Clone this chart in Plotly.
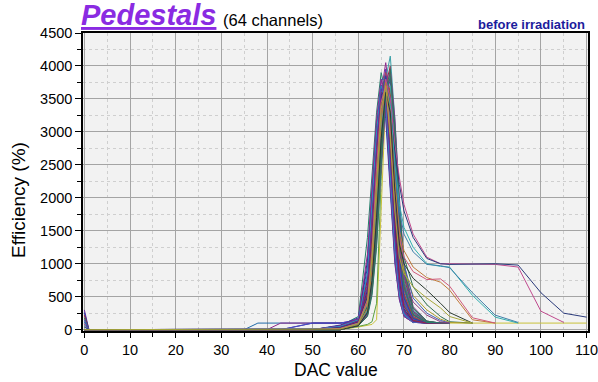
import plotly.graph_objects as go

# DAC values at which the channel efficiencies are sampled
DAC = [0, 1, 35, 38, 40, 43, 50, 56, 60, 62, 63, 64, 65, 66, 67, 68, 69, 70, 72, 75, 78, 80,
       85, 90, 95, 100, 105, 110]

# efficiency (%) per channel (one list per channel)
ch01 = [300, 0, 0, 0, 0, 0, 0, 20, 120, 450, 1100, 2200, 3300, 3950, 3400, 2300, 1200, 550, 200, 110, 100, 100]
ch02 = [260, 0, 0, 0, 0, 0, 0, 40, 150, 800, 1800, 2900, 3700, 3700, 2700, 1500, 700, 300, 130, 100, 100, 100]
ch03 = [220, 0, 0, 0, 0, 0, 0, 0, 80, 300, 750, 1600, 2800, 3700, 4000, 3000, 1700, 800, 280, 120, 100, 100]
ch04 = [180, 0, 0, 0, 0, 0, 0, 60, 200, 1400, 2400, 3300, 3900, 3600, 2500, 1300, 600, 280, 130, 100, 100, 100]
ch05 = [150, 0, 0, 0, 0, 0, 0, 10, 110, 450, 1150, 2300, 3400, 3950, 3400, 2200, 1100, 450, 160, 100, 100, 100]
ch06 = [120, 0, 0, 100, 100, 100, 100, 100, 120, 350, 850, 1800, 2900, 3700, 3800, 2700, 1500, 700, 220, 110, 100, 100]
ch07 = [90, 0, 0, 0, 0, 100, 100, 100, 150, 550, 1300, 2500, 3600, 4050, 3500, 2200, 1000, 400, 150, 100, 100, 100]
ch08 = [60, 0, 0, 0, 0, 0, 0, 30, 100, 250, 650, 1500, 2800, 3800, 4150, 3200, 1900, 900, 300, 120, 100, 100]
ch09 = [40, 0, 0, 0, 0, 0, 100, 100, 130, 800, 1800, 2900, 3700, 3500, 2400, 1200, 550, 250, 110, 100, 100, 100]
ch10 = [0, 0, 0, 0, 0, 0, 0, 0, 90, 350, 1000, 2100, 3200, 3800, 3300, 2100, 1000, 420, 150, 100, 100, 100]
ch11 = [0, 0, 0, 0, 0, 0, 0, 0, 40, 60, 80, 150, 1800, 3500, 3700, 2600, 1300, 600, 200, 110, 100, 100, 100, 100, 100, 100, 100, 100]
ch12 = [0, 0, 0, 0, 0, 0, 0, 0, 50, 80, 120, 400, 2300, 3700, 3600, 2300, 1100, 450, 150, 100, 100, 100]
ch13 = [0, 0, 0, 0, 0, 0, 0, 50, 130, 550, 1300, 2400, 3400, 3800, 3100, 1900, 900, 400, 150, 100, 100, 100]
ch14 = [0, 0, 0, 0, 0, 0, 0, 0, 90, 380, 950, 2000, 3100, 3650, 3600, 2600, 1400, 650, 220, 110, 100, 100]
ch15 = [0, 0, 0, 0, 0, 0, 100, 100, 150, 850, 1900, 3000, 3700, 3300, 2200, 1100, 500, 220, 110, 100, 100, 100]
ch16 = [0, 0, 0, 0, 0, 0, 0, 20, 110, 480, 1250, 2500, 3500, 3900, 2900, 1700, 800, 350, 140, 100, 100, 100]
ch17 = [0, 0, 0, 0, 0, 0, 0, 0, 70, 230, 650, 1450, 2600, 3500, 3800, 2900, 1700, 850, 280, 120, 100, 100]
ch18 = [0, 0, 0, 0, 0, 0, 0, 70, 180, 950, 2000, 3000, 3600, 3200, 2100, 1000, 450, 200, 110, 100, 100, 100]
ch19 = [0, 0, 0, 0, 0, 0, 0, 10, 100, 400, 1050, 2200, 3300, 3850, 3300, 2000, 950, 420, 160, 100, 100, 100]
ch20 = [0, 0, 0, 0, 0, 0, 0, 30, 130, 600, 1450, 2600, 3500, 3600, 2700, 1500, 700, 300, 120, 100, 100, 100]
ch21 = [0, 0, 0, 0, 0, 0, 0, 0, 80, 320, 850, 1850, 3000, 3750, 3500, 2400, 1300, 600, 200, 110, 100, 100]
ch22 = [0, 0, 0, 0, 0, 0, 0, 40, 140, 700, 1650, 2800, 3800, 3800, 2700, 1400, 650, 280, 120, 100, 100, 100]
ch23 = [0, 0, 0, 0, 0, 0, 0, 0, 60, 220, 560, 1300, 2450, 3400, 3950, 3200, 2000, 1000, 350, 130, 100, 100]
ch24 = [0, 0, 0, 0, 0, 0, 0, 20, 110, 450, 1150, 2350, 3400, 3650, 3000, 1800, 850, 380, 150, 100, 100, 100]
ch25 = [0, 0, 0, 0, 0, 0, 0, 60, 160, 1050, 2150, 3100, 3700, 3400, 2300, 1150, 520, 230, 110, 100, 100, 100]
ch26 = [0, 0, 0, 0, 0, 0, 0, 0, 90, 350, 900, 1950, 3150, 3900, 3600, 2400, 1200, 520, 180, 100, 100, 100]
ch27 = [0, 0, 0, 0, 0, 0, 0, 0, 70, 270, 720, 1650, 2850, 3600, 3600, 2700, 1500, 750, 260, 120, 100, 100]
ch28 = [0, 0, 0, 0, 0, 0, 0, 30, 130, 650, 1550, 2700, 3500, 3450, 2500, 1350, 620, 270, 120, 100, 100, 100]
ch29 = [0, 0, 0, 0, 0, 0, 0, 10, 100, 420, 1100, 2250, 3300, 3700, 3200, 2100, 1000, 450, 170, 100, 100, 100]
ch30 = [0, 0, 0, 0, 0, 0, 0, 0, 80, 300, 800, 1750, 2950, 3650, 3650, 2600, 1400, 650, 230, 110, 100, 100]
ch31 = [0, 0, 0, 0, 0, 0, 0, 50, 150, 800, 1850, 2900, 3600, 3500, 2450, 1250, 560, 240, 110, 100, 100, 100]
ch32 = [0, 0, 0, 0, 0, 0, 0, 0, 70, 250, 680, 1550, 2750, 3500, 3400, 2400, 1300, 650, 230, 110, 100, 100]
ch33 = [0, 0, 0, 0, 0, 0, 0, 20, 120, 520, 1300, 2450, 3450, 3800, 3200, 2000, 950, 420, 160, 100, 100, 100]
ch34 = [0, 0, 0, 0, 0, 0, 0, 0, 90, 370, 950, 2050, 3250, 3750, 3350, 2200, 1100, 480, 170, 100, 100, 100]
ch35 = [0, 0, 0, 0, 0, 0, 0, 40, 150, 750, 1750, 2800, 3600, 3550, 2650, 1450, 680, 290, 120, 100, 100, 100]
ch36 = [0, 0, 0, 0, 0, 0, 0, 0, 60, 200, 520, 1250, 2500, 3550, 3850, 3100, 1900, 950, 330, 130, 100, 100]
ch37 = [0, 0, 0, 0, 0, 0, 0, 10, 100, 470, 1200, 2350, 3350, 3600, 2900, 1750, 820, 360, 140, 100, 100, 100]
ch38 = [0, 0, 0, 0, 0, 0, 0, 0, 80, 340, 900, 1950, 3100, 3800, 3500, 2300, 1150, 500, 180, 100, 100, 100]
ch39 = [0, 0, 0, 0, 0, 0, 0, 60, 170, 1150, 2250, 3200, 3800, 3400, 2200, 1050, 460, 200, 110, 100, 100, 100]
ch40 = [0, 0, 0, 0, 0, 0, 0, 0, 70, 280, 760, 1650, 2850, 3650, 3700, 2700, 1500, 720, 250, 110, 100, 100]
ch41 = [0, 0, 0, 0, 0, 0, 0, 30, 130, 600, 1450, 2600, 3550, 3700, 2800, 1600, 750, 320, 130, 100, 100, 100]
ch42 = [0, 0, 0, 0, 0, 0, 0, 0, 90, 400, 1000, 2100, 3200, 3700, 3250, 2100, 1050, 460, 170, 100, 100, 100]
ch43 = [0, 0, 0, 0, 0, 0, 0, 20, 110, 500, 1250, 2400, 3400, 3750, 3100, 1900, 900, 400, 150, 100, 100, 100]
ch44 = [0, 0, 0, 0, 0, 0, 0, 0, 70, 260, 700, 1600, 2800, 3550, 3550, 2600, 1450, 700, 250, 110, 100, 100]
ch45 = [0, 0, 0, 0, 0, 0, 0, 50, 150, 850, 1900, 3000, 3700, 3450, 2350, 1200, 540, 230, 110, 100, 100, 100]
ch46 = [0, 0, 0, 0, 0, 0, 0, 0, 80, 320, 860, 1900, 3050, 3800, 3550, 2400, 1200, 540, 190, 100, 100, 100]
ch47 = [0, 0, 0, 0, 0, 0, 0, 10, 100, 440, 1150, 2300, 3350, 3800, 3200, 2000, 950, 420, 160, 100, 100, 100]
ch48 = [0, 0, 0, 0, 0, 0, 0, 0, 60, 210, 600, 1400, 2650, 3600, 3950, 3000, 1800, 900, 320, 130, 100, 100]
ch49 = [0, 0, 0, 0, 0, 0, 0, 30, 130, 650, 1600, 2750, 3650, 3600, 2600, 1400, 650, 280, 120, 100, 100, 100]
ch50 = [0, 0, 0, 0, 0, 0, 0, 0, 90, 380, 980, 2050, 3200, 3850, 3400, 2200, 1100, 480, 170, 100, 100, 100]
ch51 = [0, 0, 0, 0, 0, 0, 0, 20, 120, 550, 1350, 2500, 3450, 3650, 2900, 1750, 820, 360, 140, 100, 100, 100]
ch52 = [0, 0, 0, 0, 0, 0, 0, 0, 70, 290, 780, 1700, 2900, 3650, 3500, 2500, 1350, 650, 230, 110, 100, 100]
ch53 = [0, 0, 0, 0, 0, 0, 0, 0, 80, 350, 950, 2050, 3200, 3750, 3400, 2600, 1700, 1100, 650, 380, 200, 120, 100]
ch54 = [0, 0, 0, 0, 0, 0, 0, 20, 100, 450, 1200, 2400, 3400, 3700, 3100, 2300, 1400, 900, 520, 300, 160, 110, 100]
ch55 = [0, 0, 0, 0, 0, 0, 0, 0, 70, 300, 850, 1900, 3100, 3800, 3500, 2500, 1600, 1000, 480, 250, 140, 100]
ch56 = [0, 0, 0, 0, 0, 0, 0, 10, 100, 420, 1100, 2300, 3300, 3650, 3000, 2100, 1250, 800, 420, 220, 120, 100]
ch57 = [0, 0, 0, 0, 0, 0, 0, 20, 100, 400, 1000, 2200, 3300, 3800, 3500, 2800, 2300, 1900, 1450, 1100, 1000, 1000, 1000, 990, 950, 280, 110]
ch58 = [0, 0, 0, 0, 0, 0, 0, 30, 110, 500, 1200, 2400, 3400, 3700, 3300, 2700, 2200, 1800, 1400, 1080, 1000, 990, 1000, 1000, 980, 560, 250, 190]
ch59 = [0, 0, 0, 0, 0, 0, 0, 0, 80, 300, 800, 1900, 3100, 3700, 3400, 2500, 1900, 1550, 1250, 1000, 960, 950, 520, 190, 100]
ch60 = [0, 0, 0, 0, 0, 0, 0, 10, 100, 380, 1000, 2100, 3200, 3600, 3200, 2400, 1800, 1450, 1180, 990, 970, 940, 560, 220, 110]
ch61 = [0, 0, 0, 0, 0, 0, 0, 0, 70, 320, 900, 2000, 3150, 3750, 3300, 2200, 1500, 1200, 950, 790, 720, 600, 150, 100]
ch62 = [0, 0, 0, 0, 0, 0, 0, 20, 100, 450, 1200, 2450, 3450, 3700, 3000, 2000, 1400, 1100, 880, 760, 770, 660, 180, 100]
ch63 = [0, 0, 0, 0, 0, 0, 0, 0, 60, 260, 750, 1700, 2900, 3600, 3300, 2100, 1300, 1000, 780, 600, 400, 260, 100]
ch64 = [0, 0, 0, 0, 0, 0, 0, 10, 90, 400, 1100, 2300, 3350, 3700, 2900, 1800, 1100, 850, 650, 480, 330, 200, 100]

CHANNELS = [ch01, ch02, ch03, ch04, ch05, ch06, ch07, ch08, ch09, ch10, ch11, ch12, ch13, ch14, ch15, ch16,
            ch17, ch18, ch19, ch20, ch21, ch22, ch23, ch24, ch25, ch26, ch27, ch28, ch29, ch30, ch31, ch32,
            ch33, ch34, ch35, ch36, ch37, ch38, ch39, ch40, ch41, ch42, ch43, ch44, ch45, ch46, ch47, ch48,
            ch49, ch50, ch51, ch52, ch53, ch54, ch55, ch56, ch57, ch58, ch59, ch60, ch61, ch62, ch63, ch64]

PALETTE = ["#6a2c9e", "#2b3fa8", "#9c2342", "#23806a", "#5b3fc4", "#1f6aa8", "#8e2a8e", "#3aa0a8",
           "#2a2f7e", "#b03a68", "#4f8a3a", "#7a3f8a", "#2a8fc0", "#a0522d", "#4a4ad0", "#3b6f5a"]
SPECIAL = {10: "#c9c23a", 11: "#5aa040", 52: "#2f6f4f", 53: "#b0a030", 54: "#4060b0", 55: "#8a4080",
           56: "#c04a8e", 57: "#2a3a7a", 58: "#30b0b0", 59: "#3f7fa8", 60: "#c07a3a", 61: "#d05a7a",
           62: "#2a3a30", 63: "#a8a83a"}

fig = go.Figure()
for i, ys in enumerate(CHANNELS):
    fig.add_trace(go.Scatter(
        x=DAC[:len(ys)], y=ys, mode="lines",
        line=dict(color=SPECIAL.get(i, PALETTE[i % len(PALETTE)]), width=1),
        showlegend=False, hoverinfo="skip"))

FONT = "Arial, Liberation Sans, sans-serif"
fig.update_layout(
    width=598, height=382,
    margin=dict(l=83, r=10, t=33, b=51),
    paper_bgcolor="white", plot_bgcolor="#f2f2f2",
    font=dict(family=FONT, color="black", size=14),
    xaxis=dict(range=[-0.3, 110.3], tickmode="linear", tick0=0, dtick=10, automargin=False,
               ticklabeloverflow="allow",
               ticks="outside", ticklen=5, tickwidth=1, tickcolor="black",
               showline=True, linecolor="black", linewidth=1.5, mirror=True,
               showgrid=True, gridcolor="#a4a4a4", gridwidth=1, zeroline=False,
               tickfont=dict(size=14.5, family=FONT),
               minor=dict(dtick=5, ticks="outside", ticklen=4, tickcolor="black",
                          showgrid=True, gridcolor="#cfcfcf", griddash="dot", gridwidth=1)),
    yaxis=dict(range=[-20, 4500], tickmode="linear", tick0=0, dtick=500, automargin=False,
               ticklabeloverflow="allow",
               ticks="outside", ticklen=6, tickwidth=1, tickcolor="black",
               showline=True, linecolor="black", linewidth=1.5, mirror=True,
               showgrid=True, gridcolor="#a4a4a4", gridwidth=1, zeroline=False,
               tickfont=dict(size=14.5, family=FONT),
               minor=dict(dtick=250, ticks="outside", ticklen=4, tickcolor="black",
                          showgrid=True, gridcolor="#cfcfcf", griddash="dot", gridwidth=1)),
    annotations=[
        dict(text="<b><i><u>Pedestals</u></i></b>", xref="paper", yref="paper",
             x=-0.008, y=1.06, xanchor="left", yanchor="middle", showarrow=False,
             font=dict(size=29, color="#8a2be2", family=FONT)),
        dict(text="(64 channels)", xref="paper", yref="paper",
             x=0.273, y=1.045, xanchor="left", yanchor="middle", showarrow=False,
             font=dict(size=16.5, color="black", family=FONT)),
        dict(text="<b>before irradiation</b>", xref="paper", yref="paper",
             x=0.998, y=1.028, xanchor="right", yanchor="middle", showarrow=False,
             font=dict(size=13, color="#1c1c9c", family=FONT)),
        dict(text="DAC value", xref="paper", yref="paper",
             x=0.5, y=-0.131, xanchor="center", yanchor="middle", showarrow=False,
             font=dict(size=17.5, color="black", family=FONT)),
        dict(text="Efficiency (%)", xref="paper", yref="paper", textangle=-90,
             x=-0.128, y=0.441, xanchor="center", yanchor="middle", showarrow=False,
             font=dict(size=19, color="black", family=FONT)),
    ],
)

fig.write_html("out.html")
